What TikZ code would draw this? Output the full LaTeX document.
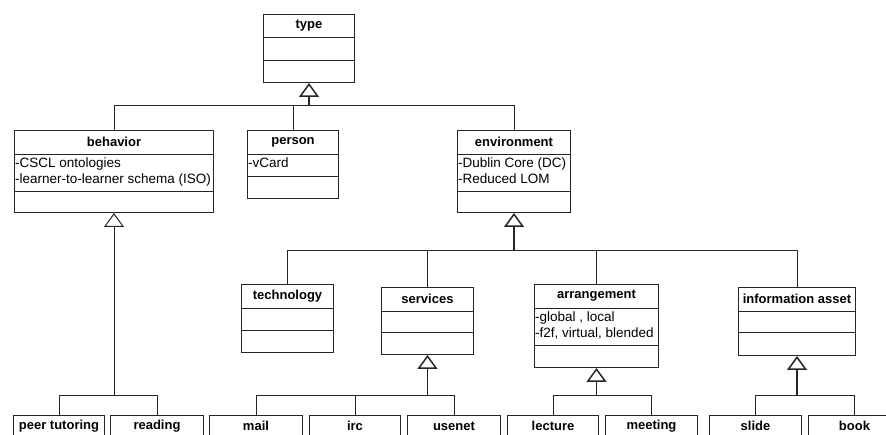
\documentclass[tikz,border=0pt]{standalone}
\usepackage{fontspec}
\setmainfont{Liberation Sans}
\usetikzlibrary{arrows.meta,positioning}
\tikzset{
x=1pt, y=-1pt,
umlbox/.style={draw=black!85, line width=1pt, anchor=north west, inner sep=0pt},
title/.style={font=\fontsize{13}{15}\selectfont\bfseries, inner sep=0pt},
attrs/.style={font=\fontsize{13.5}{16.5}\selectfont, align=left, anchor=north west, inner xsep=1pt, inner ysep=2.5pt},
wire/.style={draw=black!85, line width=1pt},
isa/.style={wire, line width=1.5pt, -{Triangle[open, length=14pt, width=20pt]}},
}

\newcommand{\umlclass}[7]{%
  \node[umlbox, minimum width=#4pt, minimum height=#5pt] (#1) at (#2,#3) {};
  \draw[wire] ([yshift=-#6pt]#1.north west) -- ([yshift=-#6pt]#1.north east);
  \draw[wire] ([yshift=-#7pt]#1.north west) -- ([yshift=-#7pt]#1.north east);
}
\newcommand{\leafclass}[3]{%
  \node[umlbox, minimum width=#3pt, minimum height=40pt] (#1) at (#2,415) {};
}

\begin{document}
\begin{tikzpicture}

    \useasboundingbox (0,0) rectangle (886,435);
    \clip (0,0) rectangle (886,435);

    \umlclass{type}{263}{14}{91}{68}{24}{47}
    \node[title] (type-t) at ([yshift=-12pt]type.north) {type};

    \umlclass{behavior}{14}{130}{199}{82}{25}{62}
    \node[title] (behavior-t) at ([yshift=-12pt]behavior.north) {behavior};
    \node[attrs] (behavior-a) at ([yshift=-25pt]behavior.north west) {-CSCL ontologies\\-learner-to-learner schema (ISO)};

    \umlclass{person}{247}{130}{91}{68}{25}{47}
    \node[title] (person-t) at ([yshift=-12pt]person.north) {person};
    \node[attrs] (person-a) at ([yshift=-25pt]person.north west) {-vCard};

    \umlclass{environment}{457}{130}{113}{82}{25}{62}
    \node[title] (environment-t) at ([yshift=-12pt]environment.north) {environment};
    \node[attrs] (environment-a) at ([yshift=-25pt]environment.north west) {-Dublin Core (DC)\\-Reduced LOM};

    \umlclass{technology}{241}{284}{92}{68}{25}{47}
    \node[title] (technology-t) at ([yshift=-12pt]technology.north) {technology};

    \umlclass{services}{381}{287}{92}{67}{25}{46}
    \node[title] (services-t) at ([yshift=-12pt]services.north) {services};

    \umlclass{arrangement}{534}{284}{124}{83}{25}{62}
    \node[title] (arrangement-t) at ([yshift=-12pt]arrangement.north) {arrangement};
    \node[attrs] (arrangement-a) at ([yshift=-25pt]arrangement.north west) {-global , local\\-f2f, virtual, blended};

    \umlclass{infoasset}{738}{287}{117}{68}{25}{46}
    \node[title] (infoasset-t) at ([yshift=-12pt]infoasset.north) {information asset};

    \leafclass{peer}{13}{91}
    \leafclass{reading}{110}{93}
    \leafclass{mail}{209}{93}
    \leafclass{irc}{309}{91}
    \leafclass{usenet}{407}{93}
    \leafclass{lecture}{507}{91}
    \leafclass{meeting}{605}{92}
    \leafclass{slide}{709}{92}
    \leafclass{book}{808}{92}
    \node[title] (peer-t) at ([yshift=-11pt]peer.north) {peer tutoring};
    \node[title] (reading-t) at ([yshift=-11pt]reading.north) {reading};
    \node[title] (mail-t) at ([yshift=-11pt]mail.north) {mail};
    \node[title] (irc-t) at ([yshift=-11pt]irc.north) {irc};
    \node[title] (usenet-t) at ([yshift=-11pt]usenet.north) {usenet};
    \node[title] (lecture-t) at ([yshift=-11pt]lecture.north) {lecture};
    \node[title] (meeting-t) at ([yshift=-11pt]meeting.north) {meeting};
    \node[title] (slide-t) at ([yshift=-11pt]slide.north) {slide};
    \node[title] (book-t) at ([yshift=-11pt]book.north) {book};

    \coordinate (typebus) at (type.south |- 0,106);
    \coordinate (envbus) at (environment.south |- 0,251);
    \coordinate (behbus) at (behavior.south |- 0,395);
    \coordinate (servbus) at (services.south |- 0,395);
    \coordinate (arrbus) at (arrangement.south |- 0,395);
    \coordinate (infobus) at (infoasset.south |- 0,395);

    \foreach \c in {behavior,person,environment} \draw[wire] (\c.north) |- (typebus);
    \foreach \c in {technology,services,arrangement,infoasset} \draw[wire] (\c.north) |- (envbus);
    \foreach \c in {peer,reading} \draw[wire] (\c.north) |- (behbus);
    \foreach \c in {mail,irc,usenet} \draw[wire] (\c.north) |- (servbus);
    \foreach \c in {lecture,meeting} \draw[wire] (\c.north) |- (arrbus);
    \foreach \c in {slide,book} \draw[wire] (\c.north) |- (infobus);

    \draw[isa] (typebus) -- (type.south);
    \draw[isa, line width=1pt] (behbus) -- (behavior.south);
    \draw[isa] (envbus) -- (environment.south);
    \draw[isa] (servbus) -- (services.south);
    \draw[isa] (arrbus) -- (arrangement.south);
    \draw[isa] (infobus) -- (infoasset.south);

\end{tikzpicture}
\end{document}
